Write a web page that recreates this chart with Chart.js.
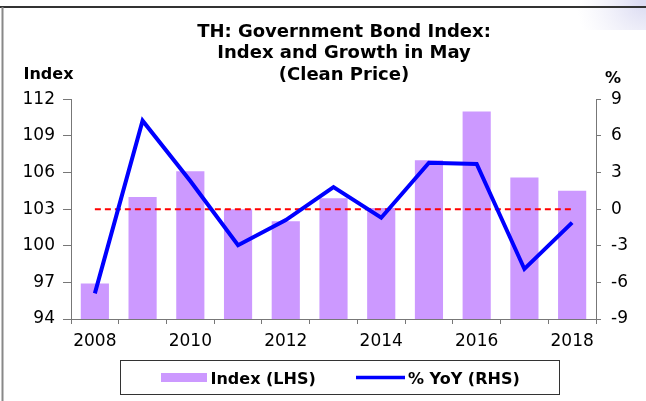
<!DOCTYPE html>
<html>
<head>
<meta charset="utf-8">
<script src="https://cdn.jsdelivr.net/npm/chart.js@4.4.1/dist/chart.umd.min.js"></script>
<style>
html, body { margin: 0; padding: 0; background: #fff; }
canvas { display: block; }
</style>
</head>
<body>
<canvas id="grafico" width="646" height="401"></canvas>
<script>
// Datos del gráfico
const years = ['2008', '2009', '2010', '2011', '2012', '2013', '2014', '2015', '2016', '2017', '2018'];
const indexValues = [96.9, 104.0, 106.1, 103.0, 102.0, 103.9, 103.1, 107.0, 111.0, 105.6, 104.5];
const yoyValues = [-6.9, 7.25, 2.3, -2.95, -0.9, 1.8, -0.7, 3.8, 3.7, -4.9, -1.1];
const zeroLine = [0, 0, 0, 0, 0, 0, 0, 0, 0, 0, 0];
const leftTicks = [94, 97, 100, 103, 106, 109, 112];
const rightTicks = [-9, -6, -3, 0, 3, 6, 9];
const titleLines = ['TH: Government Bond Index:', 'Index and Growth in May', '(Clean Price)'];

Chart.defaults.font.family = '"DejaVu Sans", sans-serif';
Chart.defaults.color = '#000';

const axisColor = '#777';

// Marco, título, títulos de ejes y leyenda dibujados a mano
const marco = {
    id: 'marco',
    beforeDraw(chart) {
        const ctx = chart.ctx;
        ctx.save();
        ctx.fillStyle = '#fff';
        ctx.fillRect(0, 0, chart.width, chart.height);
        const g = ctx.createRadialGradient(646, 0, 5, 646, 0, 70);
        g.addColorStop(0, 'rgba(220,220,242,1)');
        g.addColorStop(1, 'rgba(235,235,248,0)');
        ctx.fillStyle = g;
        ctx.fillRect(570, 0, 76, 30);
        ctx.restore();
    },
    afterDraw(chart) {
        const ctx = chart.ctx;
        ctx.save();
        // bordes
        ctx.strokeStyle = '#333';
        ctx.lineWidth = 2;
        ctx.beginPath();
        ctx.moveTo(0, 7); ctx.lineTo(646, 7);
        ctx.stroke();
        ctx.strokeStyle = '#888';
        ctx.beginPath();
        ctx.moveTo(2.5, 7); ctx.lineTo(2.5, 401);
        ctx.stroke();

        // título
        ctx.fillStyle = '#000';
        ctx.font = 'bold 18px "DejaVu Sans"';
        ctx.textBaseline = 'alphabetic';
        ctx.textAlign = 'center';
        const bases = [36.7, 58.3, 79.5];
        titleLines.forEach((t, i) => ctx.fillText(t, 344, bases[i]));

        // títulos de ejes
        ctx.font = 'bold 16px "DejaVu Sans"';
        ctx.textAlign = 'left';
        ctx.fillText('Index', 23.5, 78.5);
        ctx.fillText('%', 605, 82.5);

        // leyenda
        const ds = chart.data.datasets;
        ctx.strokeStyle = '#333';
        ctx.lineWidth = 1;
        ctx.strokeRect(120.5, 360.5, 439, 34);
        ctx.fillStyle = ds[0].backgroundColor;
        ctx.fillRect(161, 373, 46, 9);
        ctx.strokeStyle = ds[1].borderColor;
        ctx.lineWidth = 3.5;
        ctx.beginPath();
        ctx.moveTo(356, 377.5); ctx.lineTo(405, 377.5);
        ctx.stroke();
        ctx.fillStyle = '#000';
        ctx.fillText(ds[0].label, 210.5, 383.5);
        ctx.fillText(ds[1].label, 408, 383.5);
        ctx.restore();
    }
};

new Chart(document.getElementById('grafico'), {
    data: {
        labels: years,
        datasets: [{
            type: 'bar',
            label: 'Index (LHS)',
            data: indexValues,
            backgroundColor: '#CC99FF',
            barPercentage: 0.59,
            categoryPercentage: 1.0,
            yAxisID: 'y',
            order: 3
        }, {
            type: 'line',
            label: '% YoY (RHS)',
            data: yoyValues,
            borderColor: '#0000FF',
            borderWidth: 4,
            pointRadius: 0,
            tension: 0,
            yAxisID: 'y1',
            order: 1
        }, {
            type: 'line',
            label: 'cero',
            data: zeroLine,
            borderColor: '#FF0000',
            borderWidth: 2,
            borderDash: [6, 4],
            pointRadius: 0,
            yAxisID: 'y1',
            order: 2
        }]
    },
    options: {
        responsive: false,
        animation: false,
        devicePixelRatio: 1,
        layout: { padding: { left: 15, right: 0, top: 99.3, bottom: 52 } },
        plugins: {
            legend: { display: false },
            tooltip: { enabled: false },
            title: { display: false }
        },
        scales: {
            x: {
                offset: true,
                grid: { offset: true, drawOnChartArea: false, tickLength: 5, color: axisColor },
                border: { color: axisColor, width: 1 },
                ticks: {
                    autoSkip: false,
                    maxRotation: 0,
                    padding: 7,
                    font: { size: 17 },
                    callback: function(v, i) { return i % 2 === 0 ? this.getLabelForValue(v) : ''; }
                },
                afterFit: s => { s.height = 30; }
            },
            y: {
                position: 'left',
                min: leftTicks[0],
                max: leftTicks[leftTicks.length - 1],
                grid: { drawOnChartArea: false, tickLength: 8, color: axisColor },
                border: { color: axisColor, width: 1 },
                ticks: { stepSize: 3, padding: 8, font: { size: 17 } },
                afterFit: s => { s.width = 56; }
            },
            y1: {
                position: 'right',
                min: rightTicks[0],
                max: rightTicks[rightTicks.length - 1],
                grid: { drawOnChartArea: false, tickLength: 5, color: axisColor },
                border: { color: axisColor, width: 1 },
                ticks: { stepSize: 3, padding: 10, font: { size: 17 }, callback: v => String(v) },
                afterFit: s => { s.width = 50; }
            }
        }
    },
    plugins: [marco]
});
</script>
</body>
</html>
